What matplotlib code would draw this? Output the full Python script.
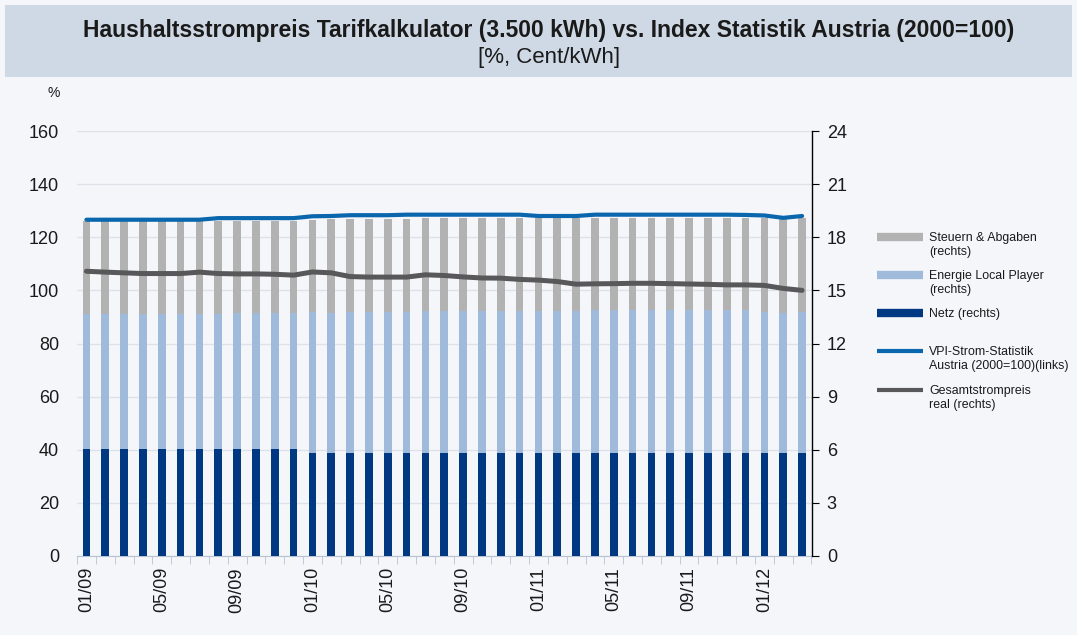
import numpy as np
import matplotlib
matplotlib.use('Agg')
import matplotlib.pyplot as plt
from matplotlib.lines import Line2D

plt.rcParams['font.family'] = ['Liberation Sans', 'DejaVu Sans']

# Monthly data 01/09 .. 03/12
MONTHS = ['01/09', '02/09', '03/09', '04/09', '05/09', '06/09', '07/09', '08/09',
          '09/09', '10/09', '11/09', '12/09',
          '01/10', '02/10', '03/10', '04/10', '05/10', '06/10', '07/10', '08/10',
          '09/10', '10/10', '11/10', '12/10',
          '01/11', '02/11', '03/11', '04/11', '05/11', '06/11', '07/11', '08/11',
          '09/11', '10/11', '11/11', '12/11',
          '01/12', '02/12', '03/12']

# Cent/kWh (right axis)
netz = [6.02, 6.02, 6.02, 6.02, 6.02, 6.02, 6.02, 6.02, 6.02, 6.02, 6.02, 6.02,
        5.83, 5.83, 5.83, 5.83, 5.83, 5.83, 5.83, 5.83, 5.83, 5.83, 5.83, 5.83,
        5.83, 5.83, 5.83, 5.83, 5.83, 5.83, 5.83, 5.83, 5.83, 5.83, 5.83, 5.83,
        5.80, 5.80, 5.80]

energie = [7.66, 7.66, 7.66, 7.66, 7.66, 7.66, 7.66, 7.66, 7.68, 7.68, 7.68, 7.68,
           7.93, 7.91, 7.95, 7.95, 7.95, 7.95, 8.02, 7.99, 7.99, 7.99, 8.02, 8.02,
           7.99, 7.99, 7.99, 8.09, 8.09, 8.09, 8.09, 8.09, 8.09, 8.09, 8.09, 8.09,
           7.98, 7.94, 7.97]

steuern = [5.22, 5.22, 5.22, 5.22, 5.22, 5.22, 5.22, 5.22, 5.20, 5.20, 5.20, 5.20,
           5.23, 5.29, 5.25, 5.25, 5.25, 5.25, 5.25, 5.28, 5.28, 5.28, 5.25, 5.25,
           5.28, 5.28, 5.28, 5.18, 5.18, 5.18, 5.18, 5.18, 5.18, 5.18, 5.18, 5.18,
           5.29, 5.31, 5.30]

gesamt_real = [16.08, 16.03, 15.99, 15.95, 15.95, 15.95, 16.03, 15.95, 15.93, 15.93,
               15.91, 15.86, 16.04, 15.99, 15.78, 15.75, 15.75, 15.75, 15.88, 15.84,
               15.76, 15.70, 15.69, 15.62, 15.58, 15.50, 15.35, 15.37, 15.38, 15.40,
               15.40, 15.38, 15.36, 15.34, 15.31, 15.31, 15.28, 15.11, 15.00]

# % (left axis)
vpi = [126.6, 126.6, 126.6, 126.6, 126.6, 126.6, 126.6, 127.2, 127.2, 127.2,
       127.2, 127.2, 127.9, 128.0, 128.3, 128.3, 128.3, 128.5, 128.5, 128.5,
       128.5, 128.5, 128.5, 128.5, 128.0, 128.0, 128.0, 128.5, 128.5, 128.5,
       128.5, 128.5, 128.5, 128.5, 128.5, 128.4, 128.2, 127.3, 128.0]

LEG_LABELS = ['Steuern & Abgaben\n(rechts)', 'Energie Local Player\n(rechts)', 'Netz (rechts)',
              'VPI-Strom-Statistik\nAustria (2000=100)(links)', 'Gesamtstrompreis\nreal (rechts)']

C_NETZ = '#003882'
C_ENERGIE = '#9fbadb'
C_STEUERN = '#b2b2b2'
C_VPI = '#0a66ad'
C_REAL = '#58585a'
BG = '#f5f6fa'
TXT = '#1a1a1a'


def fx(px):
    return px / 1077


def fy(py):
    return 1 - py / 635


def main():
    fig = plt.figure(figsize=(10.77, 6.35), dpi=100)
    fig.patch.set_facecolor(BG)

    # title band
    fig.patches.append(plt.Rectangle((fx(5), fy(77)), fx(1067), 72 / 635,
                                     transform=fig.transFigure, facecolor='#cfd9e5',
                                     edgecolor='none', zorder=0))
    fig.text(fx(549), fy(30), 'Haushaltsstrompreis Tarifkalkulator (3.500 kWh) vs. Index Statistik Austria (2000=100)',
             ha='center', va='center', fontsize=16.5, fontweight='bold', color=TXT)
    fig.text(fx(549), fy(57), '[%, Cent/kWh]', ha='center', va='center',
             fontsize=16, color=TXT)
    fig.text(fx(54), fy(93), '%', ha='center', va='center', fontsize=10, color=TXT)

    ax = fig.add_axes([fx(77), fy(556), (811.5 - 77) / 1077, (556 - 131) / 635])
    ax.set_facecolor(BG)
    ax2 = ax.twinx()

    x = np.arange(len(MONTHS))
    w = 0.41
    netz_a = np.array(netz)
    en_a = np.array(energie)
    st_a = np.array(steuern)

    ax2.bar(x, netz_a, w, color=C_NETZ, zorder=2)
    ax2.bar(x, en_a, w, bottom=netz_a, color=C_ENERGIE, zorder=2)
    ax2.bar(x, st_a, w, bottom=netz_a + en_a, color=C_STEUERN, zorder=2)
    ax2.plot(x, gesamt_real, color=C_REAL, lw=3.6, solid_capstyle='round', zorder=3)

    # VPI belongs to the left axis; scaled into right-axis units so it sits above the bars
    ax2.plot(x, np.array(vpi) * 24 / 160, color=C_VPI, lw=3.0, solid_capstyle='round', zorder=4)

    ax.set_ylim(0, 160)
    ax2.set_ylim(0, 24)
    ax.set_xlim(-0.5, len(MONTHS) - 0.5)

    ax.set_yticks(np.arange(0, 161, 20))
    ax2.set_yticks(np.arange(0, 25, 3))
    ax.yaxis.grid(True, color='#dde2ea', lw=1)
    ax.set_axisbelow(True)

    for s in ['top', 'left', 'right']:
        ax.spines[s].set_visible(False)
    for s in ['top', 'left', 'bottom']:
        ax2.spines[s].set_visible(False)
    ax.spines['bottom'].set_color('#b8c2d2')
    ax2.spines['right'].set_color('black')
    ax2.spines['right'].set_linewidth(1)

    ax.tick_params(axis='y', length=0, labelsize=13, pad=13, colors=TXT)
    ax2.tick_params(axis='y', length=5, labelsize=13, pad=6, colors=TXT)
    ax2.tick_params(axis='y', color='black')

    ax.set_xticks(x[::4])
    ax.set_xticklabels(MONTHS[::4], rotation=90, fontsize=13, color=TXT)
    ax.set_xticks(np.arange(-0.5, len(MONTHS), 1), minor=True)
    ax.tick_params(axis='x', which='major', length=0, pad=8)
    ax.tick_params(axis='x', which='minor', length=6, color='#b8c2d2')

    # legend, placed entry by entry
    leg_styles = [(C_STEUERN, 6), (C_ENERGIE, 6), (C_NETZ, 6), (C_VPI, 3), (C_REAL, 3)]
    leg_y = [237, 275, 313, 351, 390]
    for (col, lw), yy, lab in zip(leg_styles, leg_y, LEG_LABELS):
        fig.add_artist(Line2D([fx(877), fx(923)], [fy(yy), fy(yy)], color=col, lw=lw,
                              solid_capstyle='butt', transform=fig.transFigure))
        fig.text(fx(929), fy(yy - 5), lab, ha='left', va='top', fontsize=8.9,
                 color=TXT, linespacing=1.25)

    fig.savefig('out.png', dpi=100, facecolor=fig.get_facecolor())


if __name__ == '__main__':
    main()
